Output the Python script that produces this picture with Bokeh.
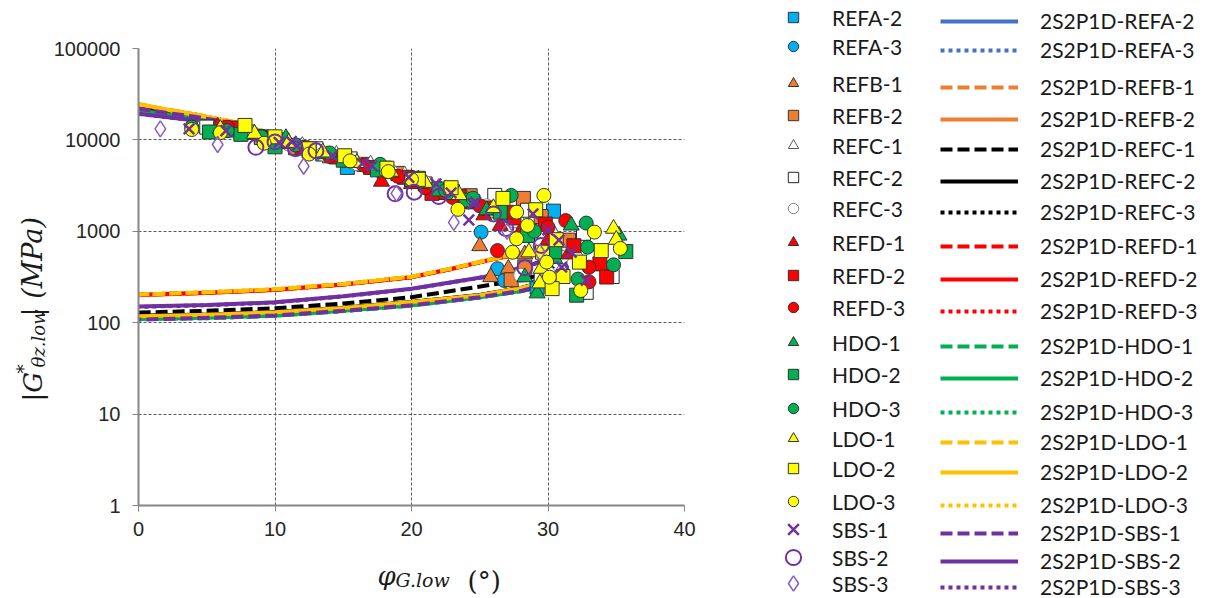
import math
from bokeh.plotting import figure
from bokeh.layouts import row, column
from bokeh.models import Range1d, FixedTicker, NumeralTickFormatter, Legend, LegendItem, Label
from bokeh.embed import file_html
from bokeh.resources import INLINE

# ---------------- measured data (phase angle in deg, |G*| in MPa) ----------------
REFA_2_phi = [6.5, 9.0, 11.5, 13.5, 15.3, 18.0, 20.5, 22.5, 24.5, 26.8, 28.2, 30.4, 29.2, 27.0]
REFA_2_G = [12800, 10800, 8600, 7000, 5000, 4500, 3500, 2700, 2100, 1500, 1100, 1660, 245, 330]
REFA_3_phi = [5.0, 7.5, 10.0, 12.5, 15.0, 17.5, 20.0, 22.0, 24.0, 25.1, 26.3, 26.8, 27.6]
REFA_3_G = [13200, 12300, 9700, 8000, 6300, 5000, 3900, 2950, 2200, 980, 390, 290, 330]
REFB_1_phi = [5.5, 8.0, 10.5, 13.0, 15.5, 18.0, 20.5, 22.5, 24.0, 25.0, 25.8, 27.1, 28.3, 30.5]
REFB_1_G = [13300, 11800, 9400, 7600, 6000, 4800, 3700, 2850, 2300, 690, 316, 390, 560, 900]
REFB_2_phi = [6.0, 9.0, 11.5, 14.0, 16.5, 19.0, 21.0, 23.0, 24.3, 26.5, 28.2, 29.5, 28.3, 27.3, 31.5]
REFB_2_G = [12700, 10600, 8200, 6700, 5400, 4300, 3300, 2700, 2450, 1900, 2290, 1450, 405, 295, 800]
REFC_1_phi = [4.5, 7.0, 9.5, 12.0, 14.5, 17.0, 19.5, 22.0, 24.0, 26.0, 28.0, 30.5, 32.0, 31.0]
REFC_1_G = [13500, 12400, 10300, 8600, 6900, 5400, 4100, 3000, 2300, 1600, 1250, 900, 600, 380]
REFC_2_phi = [5.0, 8.0, 10.5, 13.0, 15.5, 18.0, 20.5, 23.0, 26.1, 28.5, 32.6, 34.7, 32.8, 29.5]
REFC_2_G = [13800, 12200, 10000, 8000, 6200, 4900, 3800, 2700, 2470, 1700, 950, 320, 215, 300]
REFC_3_phi = [6.0, 9.0, 11.0, 13.5, 16.0, 18.5, 21.0, 23.5, 25.5, 27.5, 29.5, 31.0, 30.0, 28.0]
REFC_3_G = [13000, 10500, 9000, 7000, 5500, 4500, 3400, 2500, 1900, 1300, 800, 520, 350, 330]
REFD_1_phi = [5.8, 8.5, 11.0, 13.5, 15.5, 17.8, 20.0, 22.0, 24.0, 25.3, 26.5, 28.0, 30.0, 31.5]
REFD_1_G = [14000, 11400, 9000, 7200, 5700, 3500, 3300, 2500, 2000, 1500, 1150, 1000, 800, 560]
REFD_2_phi = [7.0, 9.5, 12.0, 14.5, 17.0, 19.5, 21.5, 23.5, 25.5, 27.5, 29.8, 31.9, 33.8, 34.3]
REFD_2_G = [13500, 10400, 8200, 6500, 5000, 3900, 2600, 2400, 1800, 1400, 1200, 695, 440, 316]
REFD_3_phi = [6.5, 9.0, 12.0, 14.0, 16.5, 19.0, 21.0, 23.0, 25.0, 26.3, 27.4, 30.0, 31.3, 33.0, 33.0]
REFD_3_G = [13800, 11000, 8300, 6600, 5300, 4000, 3000, 2350, 1900, 615, 1620, 1110, 1310, 405, 280]
HDO_1_phi = [6.0, 8.5, 10.8, 13.5, 16.0, 18.5, 21.0, 23.0, 25.5, 28.3, 29.2, 31.7, 35.2, 30.5]
HDO_1_G = [13000, 11600, 10500, 7000, 5600, 4400, 3300, 2500, 1700, 315, 210, 1160, 900, 500]
HDO_2_phi = [5.2, 7.5, 10.0, 12.5, 15.0, 17.5, 20.0, 22.0, 24.0, 26.5, 28.5, 30.5, 32.1, 35.7]
HDO_2_G = [12200, 11500, 8400, 7600, 6000, 4700, 3700, 2900, 2200, 1620, 900, 600, 200, 600]
HDO_3_phi = [3.9, 6.5, 9.0, 11.5, 14.0, 17.7, 20.5, 22.5, 24.5, 27.3, 29.0, 32.8, 32.9, 34.8, 32.2]
HDO_3_G = [13800, 12600, 10800, 8800, 7200, 5400, 3700, 2800, 2300, 2470, 1000, 1230, 670, 430, 300]
LDO_1_phi = [6.0, 8.5, 11.0, 13.5, 16.0, 18.5, 21.0, 23.5, 26.0, 28.6, 29.4, 29.5, 34.8, 35.0]
LDO_1_G = [13200, 11700, 9300, 7300, 5600, 4500, 3400, 2500, 1800, 590, 270, 390, 1070, 810]
LDO_2_phi = [7.8, 10.0, 12.5, 15.1, 18.2, 20.5, 22.9, 26.7, 29.1, 29.6, 30.6, 33.9, 32.3, 31.1, 30.3]
LDO_2_G = [14400, 10800, 8000, 6700, 4900, 3700, 3000, 2290, 1720, 590, 810, 615, 460, 320, 236]
LDO_3_phi = [3.9, 6.0, 9.2, 12.5, 15.5, 18.3, 20.0, 23.4, 27.4, 27.7, 27.7, 28.5, 29.7, 29.9, 30.1, 32.4, 33.4, 35.3]
LDO_3_G = [13000, 12000, 9200, 7000, 5900, 4500, 3700, 1740, 590, 830, 1620, 1160, 2470, 460, 315, 225, 980, 650]
SBS_1_phi = [3.7, 6.4, 10.3, 11.2, 11.6, 14.2, 16.4, 17.1, 19.8, 21.8, 22.9, 24.2, 24.5, 24.7, 28.9, 30.0, 30.8, 31.7, 31.0, 32.8]
SBS_1_G = [13200, 12600, 9400, 9600, 8600, 6700, 5500, 5200, 3900, 3300, 2630, 1330, 2000, 2080, 1550, 1030, 800, 590, 405, 290]
SBS_2_phi = [8.6, 10.0, 11.5, 13.0, 18.8, 20.2, 22.0, 26.0, 26.9, 28.3, 29.5]
SBS_2_G = [8300, 9500, 8000, 7600, 2570, 2680, 2400, 1550, 1070, 400, 700]
SBS_3_phi = [1.6, 5.8, 12.1, 18.9, 23.1, 27.0, 29.4]
SBS_3_G = [13200, 8900, 5150, 2600, 1250, 1000, 590]

# ---------------- 2S2P1D model curves (black space) ----------------
PHI_A = [0, 2, 4, 7, 10, 13, 16, 19, 22, 24.5, 26.5, 28.2, 29.5, 30.2, 30.3, 29.8, 28.5, 26.2, 23.0, 20.0, 15.0, 10.0, 5.0, 0]
PHI_B = [0, 2, 4, 7, 10, 13, 16, 19, 22, 24.5, 26.5, 28.3, 29.5, 30.0, 29.8, 29.0, 27.5, 25.3, 20.0, 15.0, 10.0, 5.0, 0]
PHI_C = [0, 2, 4, 7, 10, 13, 16, 19, 22, 24.5, 26.5, 28.3, 29.6, 30.4, 30.6, 30.2, 29.0, 27.5, 25.7, 20.0, 15.0, 10.0, 5.0, 0]
PHI_D = [0, 2, 4, 7, 10, 13, 16, 19, 22, 24.5, 26.5, 28.3, 29.8, 30.8, 31.2, 31.0, 30.2, 28.1, 25.0, 20.0, 15.0, 10.0, 5.0, 0]
PHI_E = [0, 2, 4, 7, 10, 13, 16, 19, 22, 24.5, 26.5, 28.4, 29.9, 31.0, 31.4, 31.2, 30.3, 28.1, 25.0, 20.0, 15.0, 10.0, 5.0, 0]

M_REFA_2_G = [22000, 19800, 17800, 14800, 11000, 8200, 6000, 4400, 3000, 2100, 1500, 1050, 740, 540, 420, 350, 290, 241, 200, 168, 145, 130, 122, 118]
M_REFA_3_G = [21800, 19600, 17600, 14700, 10900, 8100, 5950, 4350, 2980, 2080, 1490, 1040, 735, 535, 418, 348, 289, 240, 199, 167, 144, 129, 121, 117]
M_REFB_1_G = [24300, 21300, 19000, 15500, 11000, 8300, 6000, 4400, 3000, 2100, 1550, 1150, 900, 780, 700, 640, 580, 505, 390, 315, 262, 229, 212, 201]
M_REFB_2_G = [24200, 21200, 18900, 15400, 10900, 8250, 5980, 4380, 2990, 2090, 1545, 1145, 895, 775, 698, 638, 578, 504, 389, 314, 261, 228, 211, 200]
M_REFC_1_G = [22500, 20000, 17800, 14800, 11000, 8200, 6000, 4400, 3000, 2100, 1500, 1050, 760, 580, 460, 380, 320, 285, 258, 190, 162, 144, 135, 129]
M_REFC_2_G = [22200, 19900, 17900, 14900, 11100, 8250, 6050, 4420, 3010, 2110, 1510, 1055, 745, 545, 425, 352, 292, 242, 201, 169, 146, 131, 123, 119]
M_REFC_3_G = [22100, 19850, 17850, 14850, 11050, 8220, 6020, 4410, 3005, 2105, 1505, 1052, 742, 542, 422, 351, 291, 241, 200, 168, 145, 130, 122, 118]
M_REFD_1_G = [24400, 21400, 19100, 15550, 11050, 8320, 6020, 4410, 3010, 2110, 1555, 1152, 902, 782, 702, 642, 582, 506, 391, 316, 263, 230, 213, 202]
M_REFD_2_G = [24350, 21350, 19050, 15520, 11020, 8310, 6010, 4405, 3005, 2105, 1552, 1151, 901, 781, 701, 641, 581, 505, 390, 315, 262, 229, 212, 202]
M_REFD_3_G = [24450, 21450, 19150, 15580, 11080, 8330, 6030, 4415, 3015, 2115, 1558, 1155, 905, 785, 705, 645, 585, 507, 392, 317, 264, 231, 214, 203]
M_HDO_1_G = [21000, 19000, 17300, 14700, 10900, 8150, 5950, 4380, 2990, 2090, 1495, 1045, 725, 515, 398, 328, 268, 222, 189, 154, 134, 119, 112, 110]
M_HDO_2_G = [21100, 19100, 17400, 14750, 10950, 8170, 5970, 4390, 2995, 2095, 1498, 1048, 728, 518, 399, 329, 269, 223, 190, 155, 135, 120, 113, 110]
M_HDO_3_G = [21050, 19050, 17350, 14720, 10920, 8160, 5960, 4385, 2992, 2092, 1496, 1046, 726, 516, 398, 328, 268, 222, 189, 154, 134, 119, 112, 110]
M_LDO_1_G = [24500, 21500, 19200, 15600, 11100, 8350, 6050, 4420, 3020, 2120, 1560, 1158, 908, 788, 708, 648, 588, 508, 393, 318, 265, 232, 215, 203]
M_LDO_2_G = [24800, 21500, 19000, 15800, 11200, 8300, 6100, 4400, 3000, 2100, 1500, 1050, 740, 540, 420, 350, 290, 241, 200, 168, 145, 130, 122, 118]
M_LDO_3_G = [24600, 21600, 19300, 15650, 11150, 8380, 6080, 4430, 3030, 2130, 1565, 1160, 910, 790, 710, 650, 590, 510, 394, 319, 266, 233, 216, 204]
M_SBS_1_G = [21900, 19800, 18000, 15200, 11000, 8200, 6000, 4400, 3000, 2100, 1500, 1050, 730, 520, 400, 330, 270, 224, 190, 155, 135, 120, 113, 108]
M_SBS_2_G = [19300, 17800, 16400, 14800, 11000, 8200, 6000, 4300, 3000, 2100, 1500, 1050, 780, 600, 500, 440, 380, 316, 235, 195, 167, 156, 150]
M_SBS_3_G = [19250, 17750, 16350, 14750, 10980, 8180, 5990, 4290, 2995, 2095, 1498, 1048, 778, 598, 498, 438, 378, 315, 234, 194, 166, 155, 149]

NAMES = ["REFA-2", "REFA-3", "REFB-1", "REFB-2", "REFC-1", "REFC-2", "REFC-3",
         "REFD-1", "REFD-2", "REFD-3", "HDO-1", "HDO-2", "HDO-3",
         "LDO-1", "LDO-2", "LDO-3", "SBS-1", "SBS-2", "SBS-3"]
MEAS = [(REFA_2_phi, REFA_2_G), (REFA_3_phi, REFA_3_G), (REFB_1_phi, REFB_1_G), (REFB_2_phi, REFB_2_G),
        (REFC_1_phi, REFC_1_G), (REFC_2_phi, REFC_2_G), (REFC_3_phi, REFC_3_G),
        (REFD_1_phi, REFD_1_G), (REFD_2_phi, REFD_2_G), (REFD_3_phi, REFD_3_G),
        (HDO_1_phi, HDO_1_G), (HDO_2_phi, HDO_2_G), (HDO_3_phi, HDO_3_G),
        (LDO_1_phi, LDO_1_G), (LDO_2_phi, LDO_2_G), (LDO_3_phi, LDO_3_G),
        (SBS_1_phi, SBS_1_G), (SBS_2_phi, SBS_2_G), (SBS_3_phi, SBS_3_G)]
MODEL = [(PHI_D, M_REFA_2_G), (PHI_D, M_REFA_3_G), (PHI_A, M_REFB_1_G), (PHI_A, M_REFB_2_G),
         (PHI_C, M_REFC_1_G), (PHI_D, M_REFC_2_G), (PHI_D, M_REFC_3_G),
         (PHI_A, M_REFD_1_G), (PHI_A, M_REFD_2_G), (PHI_A, M_REFD_3_G),
         (PHI_E, M_HDO_1_G), (PHI_E, M_HDO_2_G), (PHI_E, M_HDO_3_G),
         (PHI_A, M_LDO_1_G), (PHI_D, M_LDO_2_G), (PHI_A, M_LDO_3_G),
         (PHI_E, M_SBS_1_G), (PHI_B, M_SBS_2_G), (PHI_B, M_SBS_3_G)]

# ---------------- styles ----------------
BLUE, ORANGE, RED, GREEN, YELLOW, PURPLE = "#00B0F0", "#ED7D31", "#FF0000", "#00B050", "#FFFF00", "#7030A0"
MSTYLE = [
    ("square", BLUE, "#333333", 14, 1), ("circle", BLUE, "#333333", 14, 1),
    ("triangle", ORANGE, "#333333", 16, 1), ("square", ORANGE, "#333333", 14, 1),
    ("triangle", "white", "#595959", 16, 1), ("square", "white", "#262626", 14, 1), ("circle", "white", "#7f7f7f", 14, 1),
    ("triangle", RED, "#333333", 16, 1), ("square", RED, "#333333", 14, 1), ("circle", RED, "#333333", 14, 1),
    ("triangle", GREEN, "#333333", 16, 1), ("square", GREEN, "#333333", 14, 1), ("circle", GREEN, "#333333", 14, 1),
    ("triangle", YELLOW, "#333333", 16, 1), ("square", YELLOW, "#333333", 14, 1), ("circle", YELLOW, "#333333", 14, 1),
    ("x", None, PURPLE, 15, 2.5), ("circle", None, PURPLE, 15, 2), ("diamond", None, "#8A5CC2", 16, 1.5),
]
DASHED, DOTTED = "12 5", "4 4"
LSTYLE = [("#4472C4", "solid"), ("#4472C4", DOTTED), (ORANGE, DASHED), (ORANGE, "solid"),
          ("black", DASHED), ("black", "solid"), ("black", DOTTED),
          (RED, DASHED), (RED, "solid"), (RED, DOTTED),
          (GREEN, DASHED), (GREEN, "solid"), (GREEN, DOTTED),
          ("#FFC000", DASHED), ("#FFC000", "solid"), ("#FFC000", DOTTED),
          (PURPLE, DASHED), (PURPLE, "solid"), (PURPLE, DOTTED)]

# ---------------- page geometry (pixels) ----------------
PAGE_W, PAGE_H = 1205, 598
YL_W = 50                      # strip for the y-axis title
MAIN_W, MAIN_H = 650, 545      # main chart
LEG_W = PAGE_W - YL_W - MAIN_W # legend strip
XL_H = PAGE_H - MAIN_H         # strip for the x-axis title
FRAME_L, FRAME_T, FRAME_W, FRAME_H = 136, 48, 548, 457   # plot area on the page

def blank(w, h):
    f = figure(width=w, height=h, x_range=Range1d(0, 1), y_range=Range1d(0, 1),
               title=None, output_backend="svg", toolbar_location=None,
               x_axis_location=None, y_axis_location=None,
               min_border=0, min_border_left=0, min_border_right=0, min_border_top=0, min_border_bottom=0)
    f.grid.visible = False
    f.outline_line_color = None
    f.background_fill_color = "white"
    f.border_fill_color = "white"
    return f

# ---------------- main chart ----------------
p = figure(width=MAIN_W, height=MAIN_H, y_axis_type="log", title=None,
           x_range=Range1d(0, 40), y_range=Range1d(1, 100000),
           output_backend="svg", toolbar_location=None,
           min_border_left=FRAME_L - YL_W, min_border_top=FRAME_T,
           min_border_right=MAIN_W - (FRAME_L - YL_W) - FRAME_W,
           min_border_bottom=MAIN_H - FRAME_T - FRAME_H)
p.outline_line_color = None
p.background_fill_color = "white"
p.border_fill_color = "white"

for ax in (p.xaxis[0], p.yaxis[0]):
    ax.axis_line_color = "#868686"
    ax.axis_line_width = 2
    ax.major_tick_line_color = "#868686"
    ax.major_tick_out = 6
    ax.major_tick_in = 0
    ax.minor_tick_out = 0
    ax.minor_tick_in = 0
    ax.major_label_text_font = "Liberation Sans"
    ax.major_label_text_font_size = "20px"
    ax.major_label_text_color = "#262626"
p.xaxis.ticker = FixedTicker(ticks=[0, 10, 20, 30, 40])
p.yaxis.ticker = FixedTicker(ticks=[1, 10, 100, 1000, 10000, 100000])
p.yaxis.formatter = NumeralTickFormatter(format="0")
p.xaxis.major_label_standoff = 10
p.yaxis.major_label_standoff = 12

for g in (p.xgrid[0], p.ygrid[0]):
    g.grid_line_color = "#595959"
    g.grid_line_dash = "3 2"
    g.grid_line_width = 1

for (px, gy), (col, dash) in zip(MODEL, LSTYLE):
    p.line(px, gy, line_color=col, line_width=4, line_dash=dash)

def marker_kw(style):
    mk, fc, lc, sz, lw = style
    kw = dict(marker=mk, size=sz, line_color=lc, line_width=lw)
    if fc is None:
        kw["fill_alpha"] = 0
    else:
        kw["fill_color"] = fc
    return kw

for (px, gy), st in zip(MEAS, MSTYLE):
    p.scatter(px, gy, **marker_kw(st))

# ---------------- title strips (labels in screen px relative to each strip's frame) ----------------
SERIF = "DejaVu Serif"
def lab(fig, frame_x0, frame_y1, text, ix, iy, size, italic=True, angle=0.0):
    fig.add_layout(Label(x=ix - frame_x0, y=frame_y1 - iy, x_units="screen", y_units="screen",
                         text=text, angle=angle,
                         text_font=SERIF, text_font_size=size,
                         text_font_style="italic" if italic else "normal",
                         text_align="left", text_baseline="alphabetic", text_color="#1a1a1a"))

ylf = blank(YL_W, PAGE_H)
V = math.pi / 2
lab(ylf, 0, PAGE_H, "|G", 32, 401, "26px", angle=V)
lab(ylf, 0, PAGE_H, "*", 23, 373, "18px", angle=V)
lab(ylf, 0, PAGE_H, "θz.low", 38, 367, "18px", angle=V)
lab(ylf, 0, PAGE_H, "| (MPa)", 32, 316, "27px", angle=V)

# the x-title strip shares its frame's left edge with the plot frame (column alignment)
xlf = blank(MAIN_W, XL_H)
lab(xlf, FRAME_L, PAGE_H, "φ", 375, 575, "26px")
lab(xlf, FRAME_L, PAGE_H, "G.low", 393, 579, "19px")
lab(xlf, FRAME_L, PAGE_H, "(°)", 465, 580, "26px", italic=False)

# ---------------- legend strip ----------------
lgf = blank(LEG_W, PAGE_H)
ROW_Y = [17, 46, 83, 115, 145, 177, 208, 242, 275, 307, 342, 374, 408, 438, 468, 501, 529, 557, 583]
LEG_X0 = YL_W + MAIN_W
for i, name in enumerate(NAMES):
    # legend proxies: same style, their data lies outside this strip's ranges so only the legend shows them
    r_m = lgf.scatter(x=MEAS[i][0][:1], y=MEAS[i][1][:1], **marker_kw(MSTYLE[i]))
    col, dash = LSTYLE[i]
    r_l = lgf.line(x=MODEL[i][0][:2], y=MODEL[i][1][:2], line_color=col, line_width=4, line_dash=dash)
    gs = 38 if name.startswith("SBS") else 26
    cy = ROW_Y[i]
    leg = Legend(items=[LegendItem(label=name, renderers=[r_m])],
                 location=(793 - gs / 2 - LEG_X0, PAGE_H - (cy + gs / 2)),
                 glyph_width=gs, glyph_height=gs, label_height=gs,
                 label_standoff=int(832 - (793 + gs / 2)),
                 padding=0, margin=0, spacing=0,
                 border_line_color=None, background_fill_alpha=0,
                 label_text_font="Lato", label_text_font_size="21px", label_text_color="#1a1a1a")
    lgf.add_layout(leg, "center")
    cy2 = cy + 6   # line sits a little below its label, as in the reference
    leg2 = Legend(items=[LegendItem(label="2S2P1D-" + name, renderers=[r_l])],
                  location=(940 - LEG_X0, PAGE_H - (cy2 + 10)),
                  glyph_width=78, glyph_height=20, label_height=20, label_standoff=22,
                  padding=0, margin=0, spacing=0,
                  border_line_color=None, background_fill_alpha=0,
                  label_text_font="Lato", label_text_font_size="21px", label_text_color="#1a1a1a",
                  label_text_baseline="alphabetic")
    lgf.add_layout(leg2, "center")

layout = row(ylf, column(p, xlf), lgf)
open("out.html", "w").write(file_html(layout, INLINE))
